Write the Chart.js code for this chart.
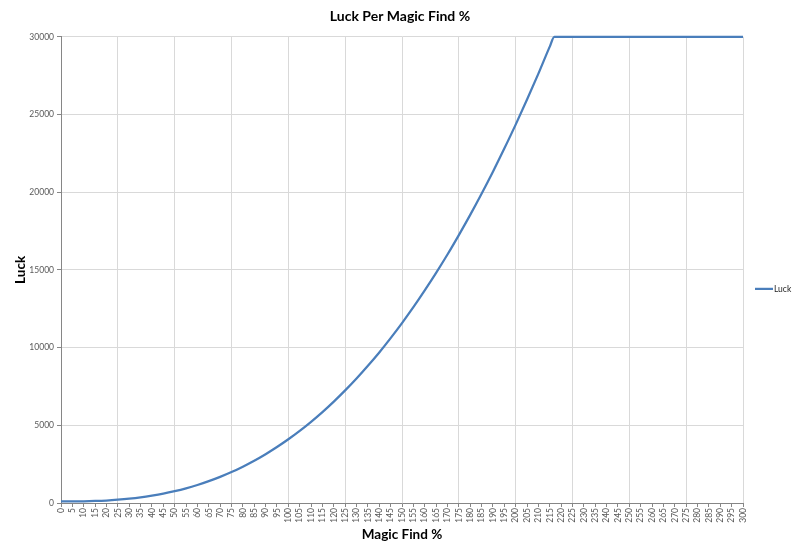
<!DOCTYPE html>
<html>
<head>
<meta charset="utf-8">
<title>Luck Per Magic Find %</title>
<script src="https://cdn.jsdelivr.net/npm/chart.js@4"></script>
<style>
    html, body { margin: 0; padding: 0; background: #ffffff; }
    #wrap { width: 800px; height: 553px; position: relative; }
</style>
</head>
<body>
<div id="wrap"><canvas id="luckChart"></canvas></div>
<script>
// Magic Find % (x) and Luck (y)
const magicFind = [
    0, 5, 10, 15, 20, 25, 30, 35, 40, 45,
    50, 55, 60, 65, 70, 75, 80, 85, 90, 95,
    100, 105, 110, 115, 120, 125, 130, 135, 140, 145,
    150, 155, 160, 165, 170, 175, 180, 185, 190, 195,
    200, 205, 210, 215, 217, 220, 225, 230, 235, 240,
    245, 250, 255, 260, 265, 270, 275, 280, 285, 290,
    295, 300
];
const luck = [
    100, 102, 110, 129, 160, 210, 275, 360, 470, 600,
    760, 945, 1160, 1405, 1680, 1990, 2340, 2720, 3140, 3600,
    4100, 4640, 5225, 5850, 6525, 7245, 8010, 8830, 9690, 10610,
    11580, 12600, 13680, 14810, 15990, 17240, 18540, 19900, 21320, 22810,
    24350, 25960, 27630, 29370, 30000, 30000, 30000, 30000, 30000, 30000,
    30000, 30000, 30000, 30000, 30000, 30000, 30000, 30000, 30000, 30000,
    30000, 30000
];
const yTicks = [0, 5000, 10000, 15000, 20000, 25000, 30000];

const seriesName = 'Luck';
const lineColor = '#4a7ebb';
const gridColor = '#d9d9d9';
const axisColor = '#868686';
const textColor = '#595959';

// legend drawn by hand on the right, Excel style
const sideLegend = {
    id: 'sideLegend',
    afterDraw(chart) {
        const c = chart.ctx;
        const area = chart.chartArea;
        const y = (area.top + area.bottom) / 2 + 19;
        c.save();
        c.strokeStyle = lineColor;
        c.lineWidth = 2.25;
        c.beginPath();
        c.moveTo(area.right + 12, y);
        c.lineTo(area.right + 30, y);
        c.stroke();
        c.fillStyle = '#262626';
        c.font = '8.5px Lato';
        c.textBaseline = 'middle';
        c.fillText(seriesName, area.right + 31, y);
        c.restore();
    }
};

new Chart(document.getElementById('luckChart'), {
    type: 'line',
    data: {
        datasets: [{
            label: seriesName,
            data: magicFind.map((m, i) => ({ x: m, y: luck[i] })),
            borderColor: lineColor,
            backgroundColor: lineColor,
            borderWidth: 2.25,
            pointRadius: 0,
            cubicInterpolationMode: 'monotone',
            clip: 4
        }]
    },
    options: {
        responsive: true,
        maintainAspectRatio: false,
        animation: false,
        layout: { padding: 0 },
        plugins: {
            legend: { display: false },
            tooltip: { enabled: false },
            title: {
                display: true,
                text: 'Luck Per Magic Find %',
                color: '#000000',
                font: { family: 'Lato', size: 14, weight: 'bold' },
                padding: { top: 8, bottom: 12 }
            }
        },
        scales: {
            x: {
                type: 'linear',
                min: 0,
                max: 300,
                afterFit(scale) { scale.height = 50; },
                border: { color: axisColor, width: 1 },
                grid: {
                    color: ctx => (ctx.tick && ctx.tick.value % 25 === 0) ? gridColor : 'rgba(0,0,0,0)',
                    tickColor: axisColor,
                    tickLength: 4
                },
                ticks: {
                    stepSize: 5,
                    autoSkip: false,
                    minRotation: 90,
                    maxRotation: 90,
                    padding: 1,
                    color: textColor,
                    font: { family: 'Lato', size: 8.5 }
                },
                title: {
                    display: true,
                    text: 'Magic Find %',
                    color: '#000000',
                    font: { family: 'Lato', size: 13.5, weight: 'bold' },
                    padding: { top: 0, bottom: 10 }
                }
            },
            y: {
                min: 0,
                max: 30000,
                afterFit(scale) { scale.width = 61; },
                afterBuildTicks(scale) { scale.ticks = yTicks.map(v => ({ value: v })); },
                border: { color: axisColor, width: 1 },
                grid: {
                    color: gridColor,
                    tickColor: axisColor,
                    tickLength: 4
                },
                ticks: {
                    padding: 3,
                    color: textColor,
                    font: { family: 'Lato', size: 8.5 },
                    callback: v => String(v)
                },
                title: {
                    display: true,
                    text: 'Luck',
                    color: '#000000',
                    font: { family: 'Lato', size: 13.5, weight: 'bold' },
                    padding: { top: 13, bottom: 0 }
                }
            },
            // empty strip on the right where the legend sits
            side: {
                position: 'right',
                afterFit(scale) { scale.width = 57; },
                border: { display: false },
                grid: { display: false },
                ticks: { display: false }
            }
        }
    },
    plugins: [sideLegend]
});
</script>
</body>
</html>
